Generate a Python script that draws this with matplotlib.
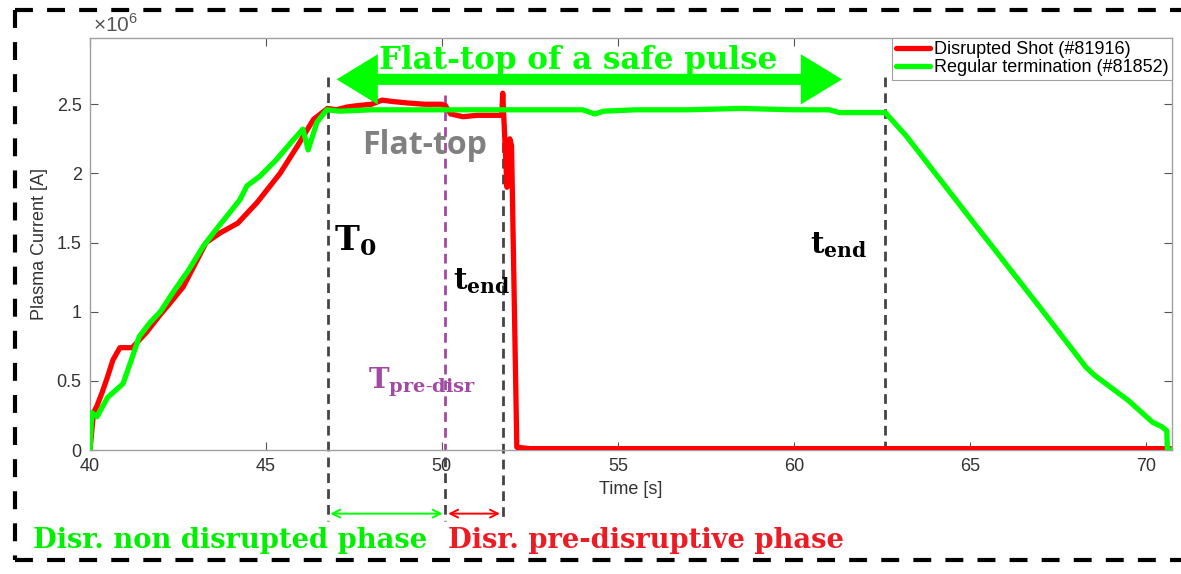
import matplotlib
matplotlib.use('Agg')
import numpy as np
import matplotlib.pyplot as plt
from matplotlib.patches import FancyArrowPatch
from matplotlib.ticker import FuncFormatter
from matplotlib.lines import Line2D

# ---------------- data ----------------
t_dis = [40.0, 40.1, 40.2, 40.35, 40.5, 40.65, 40.85, 41.2, 41.6, 42.0, 42.2, 42.65,
         43.3, 43.7, 44.2, 44.75, 45.4, 45.9, 46.35, 46.75, 47.0, 47.3, 47.6, 48.0,
         48.3, 48.6, 49.0, 49.5, 50.0, 50.1, 50.25, 50.6, 51.0, 51.5, 51.7, 51.73,
         51.85, 51.93, 51.98, 52.13, 52.5, 55.0, 60.0, 65.0, 70.0, 70.7]
I_dis = [0.0, 0.27, 0.32, 0.42, 0.53, 0.65, 0.74, 0.74, 0.85, 0.98, 1.04, 1.18,
         1.50, 1.57, 1.64, 1.79, 2.00, 2.20, 2.39, 2.47, 2.46, 2.48, 2.49, 2.50,
         2.53, 2.52, 2.51, 2.50, 2.50, 2.49, 2.43, 2.41, 2.42, 2.42, 2.42, 2.58,
         1.90, 2.25, 2.20, 0.02, 0.01, 0.01, 0.01, 0.01, 0.01, 0.01]

t_safe = [40.0, 40.05, 40.2, 40.5, 40.94, 41.2, 41.4, 41.7, 42.0, 42.36, 42.8, 43.21,
          43.6, 43.98, 44.26, 44.46, 44.83, 45.3, 45.7, 46.05, 46.2, 46.45, 46.73,
          47.1, 48.0, 49.0, 50.0, 51.0, 52.0, 53.0, 54.0, 54.35, 54.6, 55.5, 57.0,
          58.5, 60.0, 61.0, 61.3, 62.0, 62.6, 63.2, 65.0, 67.0, 68.3, 68.55, 69.5,
          70.2, 70.45, 70.6, 70.62, 70.75]
I_safe = [0.0, 0.27, 0.24, 0.38, 0.48, 0.67, 0.82, 0.92, 1.00, 1.14, 1.30, 1.47,
          1.60, 1.72, 1.81, 1.91, 1.98, 2.10, 2.22, 2.32, 2.17, 2.37, 2.46,
          2.45, 2.46, 2.46, 2.46, 2.46, 2.46, 2.46, 2.46, 2.43, 2.45, 2.46, 2.46,
          2.47, 2.46, 2.46, 2.44, 2.44, 2.44, 2.27, 1.68, 1.03, 0.60, 0.54, 0.36,
          0.20, 0.17, 0.14, 0.0, 0.0]

label_dis = 'Disrupted Shot (#81916)'
label_safe = 'Regular termination (#81852)'

# event times [s]
T0 = 46.75
T_pre = 50.1
t_end_dis = 51.73
t_end_safe = 62.6

xticks = [40, 45, 50, 55, 60, 65, 70]
yticks = [0, 0.5e6, 1.0e6, 1.5e6, 2.0e6, 2.5e6]

# ---------------- style ----------------
plt.rcParams['font.family'] = ['Liberation Sans', 'DejaVu Sans']
plt.rcParams['mathtext.fontset'] = 'custom'
plt.rcParams['mathtext.rm'] = 'Liberation Sans'
plt.rcParams['mathtext.bf'] = 'DejaVu Serif:bold'

RED = '#FF0000'
GREEN = '#00FF00'
GRAY_DASH = '#444444'
PURPLE = '#A349A4'
SERIF = ['DejaVu Serif', 'Liberation Serif']

fig = plt.figure(figsize=(11.81, 5.74), dpi=100)
ax = fig.add_axes([0.0762, 0.216, 0.9162, 0.718])

M = 1e6
ax.plot(t_dis, np.array(I_dis) * M, color=RED, lw=3.8, label=label_dis,
        solid_joinstyle='round', solid_capstyle='round', zorder=3)
ax.plot(t_safe, np.array(I_safe) * M, color=GREEN, lw=3.8, label=label_safe,
        solid_joinstyle='round', solid_capstyle='round', zorder=4)

ax.set_xlim(40, 70.75)
ax.set_ylim(0, 2.98e6)
ax.set_xticks(xticks)
ax.set_yticks(yticks)
ax.yaxis.set_major_formatter(FuncFormatter(lambda v, p: f'{v / M:g}'))
ax.tick_params(direction='in', length=6, width=0.8, color='#555555',
               labelsize=13, labelcolor='#333333', top=True, right=True, pad=6)
for s in ax.spines.values():
    s.set_color('#A0A0A0')
    s.set_linewidth(1.0)
ax.set_xlabel('Time [s]', fontsize=13, color='#333333', labelpad=4)
ax.set_ylabel('Plasma Current [A]', fontsize=13, color='#333333', labelpad=6)
ax.text(0.003, 1.006, r'$\times10^{6}$', transform=ax.transAxes, fontsize=15,
        color='#555555', ha='left', va='bottom')

leg = ax.legend(loc='upper right', borderaxespad=0, fontsize=13, fancybox=False,
                edgecolor='#A0A0A0', handlelength=1.9, handletextpad=0.2,
                borderpad=0.2, labelspacing=0.05, framealpha=1)
leg.get_frame().set_linewidth(0.8)
leg.set_zorder(10)

# ---------------- event lines ----------------
dash = (0, (3.5, 2.2))
ax.plot([T0, T0], [2.70 * M, -0.51 * M], ls=dash, lw=2, color=GRAY_DASH, clip_on=False, zorder=2)
ax.plot([T_pre, T_pre], [2.57 * M, 0], ls=dash, lw=2, color=PURPLE, clip_on=False, zorder=2)
ax.plot([T_pre, T_pre], [-0.05 * M, -0.51 * M], ls=dash, lw=2, color=GRAY_DASH, clip_on=False, zorder=2)
ax.plot([t_end_dis, t_end_dis], [2.57 * M, -0.51 * M], ls=dash, lw=2, color=GRAY_DASH, clip_on=False, zorder=2)
ax.plot([t_end_safe, t_end_safe], [2.70 * M, 0], ls=dash, lw=2, color=GRAY_DASH, clip_on=False, zorder=2)

# big double arrow
big = FancyArrowPatch((46.93, 2.68 * M), (61.45, 2.68 * M),
                      arrowstyle='<|-|>,head_length=0.9,head_width=0.55',
                      mutation_scale=20, lw=8, color=GREEN, clip_on=False,
                      joinstyle='miter', capstyle='butt', zorder=6)
ax.add_patch(big)
ax.text(53.86, 2.82 * M, 'Flat-top of a safe pulse', fontsize=22.3, fontweight='bold',
        family=SERIF, color=GREEN, ha='center', va='center', zorder=7)

ax.text(49.52, 2.20 * M, 'Flat-top', fontsize=23, fontweight='bold',
        family=['Open Sans', 'DejaVu Sans'], color='#808080', ha='center', va='center', zorder=7)

ax.text(47.53, 1.51 * M, r'$\mathbf{T_{0}}$', fontsize=24, color='black',
        ha='center', va='center', zorder=7)
ax.text(50.31, 1.22 * M, r'$\mathbf{t_{end}}$', fontsize=21, color='black',
        ha='left', va='center', zorder=7)
ax.text(60.45, 1.48 * M, r'$\mathbf{t_{end}}$', fontsize=21, color='black',
        ha='left', va='center', zorder=7)
ax.text(47.9, 0.49 * M, r'$\mathbf{T_{pre\text{-}disr}}$', fontsize=20, color=PURPLE,
        ha='left', va='center', zorder=7)

# phase arrows below axis
ax.add_patch(FancyArrowPatch((T0, -0.46 * M), (T_pre, -0.46 * M), arrowstyle='<->',
                             mutation_scale=14, lw=1.4, color=GREEN, clip_on=False))
ax.add_patch(FancyArrowPatch((T_pre, -0.46 * M), (t_end_dis, -0.46 * M), arrowstyle='<->',
                             mutation_scale=14, lw=1.4, color=RED, clip_on=False))

fig.text(0.028, 0.059, 'Disr. non disrupted phase', fontsize=19.7, fontweight='bold',
         family=SERIF, color='#00F000', ha='left', va='center')
fig.text(0.379, 0.059, 'Disr. pre-disruptive phase', fontsize=19.7, fontweight='bold',
         family=SERIF, color='#ED1C24', ha='left', va='center')

# dashed frame
fdash = (0, (4.3, 3.4))
fig.add_artist(Line2D([0.0127, 1.0], [0.9826, 0.9826], lw=3, color='black', ls=fdash, transform=fig.transFigure))
fig.add_artist(Line2D([0.0127, 1.0], [0.0244, 0.0244], lw=3, color='black', ls=fdash, transform=fig.transFigure))
fig.add_artist(Line2D([0.0127, 0.0127], [0.9826, 0.0244], lw=3, color='black', ls=fdash, transform=fig.transFigure))

fig.savefig('out.png', dpi=100)
